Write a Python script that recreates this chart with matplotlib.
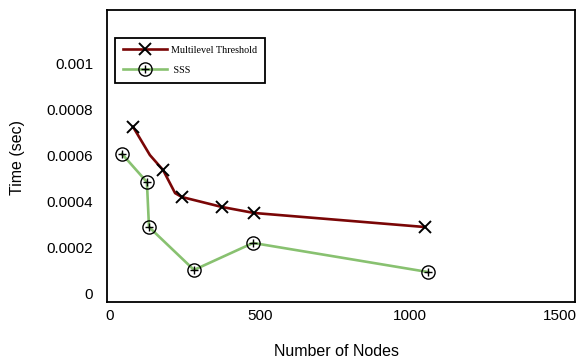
import matplotlib
matplotlib.use("Agg")
import matplotlib.pyplot as plt

# ---- data ----
mt_x = [77, 133, 177, 217, 240, 373, 480, 1050]
mt_y = [0.000723, 0.000601, 0.000536, 0.000436, 0.000419, 0.000376, 0.000350, 0.000289]
mt_marked = [0, 2, 4, 5, 6, 7]

sss_x = [40, 123, 130, 280, 477, 1060]
sss_y = [0.000606, 0.000484, 0.000289, 0.000103, 0.000220, 0.000094]

x_ticks = [0, 500, 1000, 1500]
x_tick_labels = ["0", "500", "1000", "1500"]
y_ticks = [0, 0.0002, 0.0004, 0.0006, 0.0008, 0.001]
y_tick_labels = ["0", "0.0002", "0.0004", "0.0006", "0.0008", "0.001"]

series_names = ["Multilevel Threshold", " SSS"]
x_label = "Number of Nodes"
y_label = "Time (sec)"

# ---- figure ----
W, H = 583, 361
fig = plt.figure(figsize=(W / 100, H / 100), dpi=100)
ax = fig.add_axes([107 / W, 1 - 302 / H, 468 / W, 292 / H])

mt_color = "#7a0606"
sss_color = "#88c170"

l_mt, = ax.plot(mt_x, mt_y, color=mt_color, lw=1.9, marker="x", markevery=mt_marked,
                ms=8, mec="black", mew=1.4, zorder=3)
l_sss, = ax.plot(sss_x, sss_y, color=sss_color, lw=1.9, marker="o", ms=9.5,
                 mfc="none", mec="black", mew=1.0, zorder=3)
l_plus, = ax.plot(sss_x, sss_y, ls="none", marker="+", ms=5.5, mec="black",
                  mew=1.0, zorder=4)

ax.set_xlim(-10, 1550)
ax.set_ylim(-0.000036, 0.00123)
ax.set_xticks(x_ticks)
ax.set_xticklabels(x_tick_labels)
ax.set_yticks(y_ticks)
ax.set_yticklabels(y_tick_labels)

for lab in ax.get_xticklabels() + ax.get_yticklabels():
    lab.set_fontfamily(["Liberation Sans", "DejaVu Sans"])
    lab.set_fontsize(11)

ax.tick_params(axis="both", length=0)
ax.tick_params(axis="x", pad=5)
ax.tick_params(axis="y", pad=10)

for s in ax.spines.values():
    s.set_linewidth(1.3)
    s.set_color("black")

fig.text(18 / W, 1 - 157 / H, y_label, rotation=90, ha="center", va="center",
         family=["Liberation Sans", "DejaVu Sans"], fontsize=11.5)
fig.text(337 / W, 1 - 352 / H, x_label, ha="center", va="center",
         family=["Liberation Sans", "DejaVu Sans"], fontsize=11.5)

leg = ax.legend([l_mt, (l_sss, l_plus)], series_names,
                loc="upper left", bbox_to_anchor=(8 / 468, (302 - 38) / 292),
                borderaxespad=0, fancybox=False, framealpha=1, edgecolor="black",
                prop=dict(family=["Liberation Serif", "DejaVu Serif"], size=7.3),
                handlelength=4.4, handletextpad=0.4, labelspacing=1.1,
                borderpad=0.75)
leg.get_frame().set_linewidth(1.3)

fig.savefig("out.png", dpi=100)
